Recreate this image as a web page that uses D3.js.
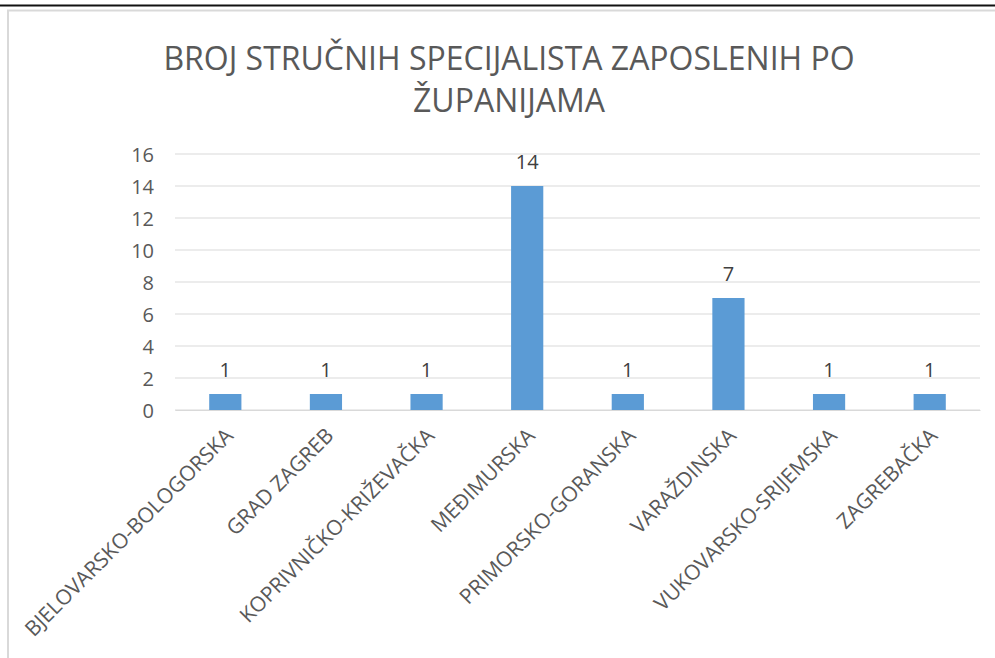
<!DOCTYPE html>
<html><head><meta charset="utf-8">
<script src="https://cdn.jsdelivr.net/npm/d3@7"></script>
<style>body{margin:0;background:#fff}svg{display:block}</style>
</head><body>
<script>
const categories = ["BJELOVARSKO-BOLOGORSKA","GRAD ZAGREB","KOPRIVNIČKO-KRIŽEVAČKA","MEĐIMURSKA","PRIMORSKO-GORANSKA","VARAŽDINSKA","VUKOVARSKO-SRIJEMSKA","ZAGREBAČKA"];
const values = [1,1,1,14,1,7,1,1];
const yTicks = [0,2,4,6,8,10,12,14,16];
const titleLines = ["BROJ STRUČNIH SPECIJALISTA ZAPOSLENIH PO","ŽUPANIJAMA"];

const W=995,H=658;
const font="'Open Sans', 'DejaVu Sans', sans-serif";
const svg=d3.select("body").append("svg").attr("width",W).attr("height",H);
svg.append("line").attr("x1",0).attr("x2",W).attr("y1",5.5).attr("y2",5.5).attr("stroke","#111").attr("stroke-width",2);
svg.append("path").attr("d",`M8,${H} V10.5 H${W}`).attr("fill","none").attr("stroke","#d9d9d9").attr("stroke-width",2);

const x=d3.scaleBand().domain(categories).range([175,980]).paddingInner(0.68).paddingOuter(0.34);
const y=d3.scaleLinear().domain([0,16]).range([410,154]);

svg.append("g").selectAll("line").data(yTicks).join("line")
 .attr("x1",175).attr("x2",980).attr("y1",d=>y(d)).attr("y2",d=>y(d))
 .attr("stroke","#d9d9d9").attr("stroke-width",1);

const yAxis=svg.append("g").attr("transform","translate(154,0)").call(d3.axisLeft(y).tickValues(yTicks).tickSize(0).tickPadding(0));
yAxis.select(".domain").remove();
yAxis.selectAll("text").attr("fill","#595959").style("font-family",font).style("font-size","20px").attr("dy","0.36em");

svg.append("g").selectAll("rect").data(values).join("rect")
 .attr("x",(d,i)=>x(categories[i])).attr("width",x.bandwidth())
 .attr("y",d=>y(d)).attr("height",d=>y(0)-y(d)).attr("fill","#5b9bd5");

svg.append("g").selectAll("text").data(values).join("text")
 .attr("x",(d,i)=>x(categories[i])+x.bandwidth()/2).attr("y",d=>y(d)-17)
 .attr("text-anchor","middle").attr("fill","#404040").style("font-family",font).style("font-size","20px").text(d=>d);

const xAxis=svg.append("g").attr("transform","translate(0,410)").call(d3.axisBottom(x).tickSize(0).tickPadding(0));
xAxis.select(".domain").attr("stroke","#d9d9d9");
xAxis.selectAll("text").attr("fill","#595959").style("font-family",font).style("font-size","21px")
 .attr("text-anchor","end").attr("dy",0).attr("y",0)
 .attr("transform","translate(9,27) rotate(-45)");

svg.append("g").selectAll("text").data(titleLines).join("text")
 .attr("x",509).attr("y",(d,i)=>70+i*42).attr("text-anchor","middle")
 .attr("fill","#595959").style("font-family",font).style("font-size","32px").text(d=>d);
</script>
</body></html>
